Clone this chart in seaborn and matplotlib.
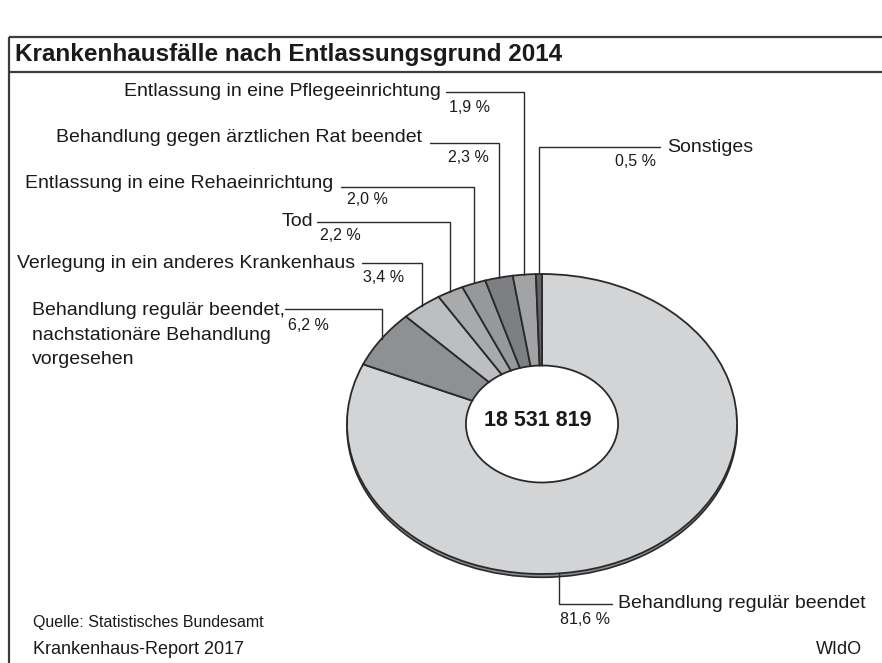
import numpy as np
import matplotlib
matplotlib.use("Agg")
import matplotlib.pyplot as plt
from matplotlib.patches import Ellipse
import seaborn as sns
from matplotlib import font_manager

# ---------------- data ----------------
categories = [
    "Behandlung regulär beendet",
    "Behandlung regulär beendet,\nnachstationäre Behandlung\nvorgesehen",
    "Verlegung in ein anderes Krankenhaus",
    "Tod",
    "Entlassung in eine Rehaeinrichtung",
    "Behandlung gegen ärztlichen Rat beendet",
    "Entlassung in eine Pflegeeinrichtung",
    "Sonstiges",
]
shares = [81.6, 6.2, 3.4, 2.2, 2.0, 2.3, 1.9, 0.5]
share_labels = ["81,6 %", "6,2 %", "3,4 %", "2,2 %", "2,0 %", "2,3 %", "1,9 %", "0,5 %"]
total_label = "18 531 819"
title = "Krankenhausfälle nach Entlassungsgrund 2014"
source = "Quelle: Statistisches Bundesamt"
footer_left = "Krankenhaus-Report 2017"
footer_right = "WIdO"

colors = ["#d3d4d6", "#8f9093", "#bdbec0", "#a9aaac", "#97989b",
          "#7e7f82", "#a2a3a5", "#636467"]

# ---------------- style ----------------
sns.set_theme(style="white")
avail = {f.name for f in font_manager.fontManager.ttflist}
main_font = "Liberation Sans Narrow" if "Liberation Sans Narrow" in avail else "Liberation Sans"
plt.rcParams["font.family"] = [main_font, "DejaVu Sans"]
TXT = "#1a1a1a"
LINE = "#2a2a2a"

W, H = 882, 663
fig = plt.figure(figsize=(W / 100, H / 100), dpi=100, facecolor="white")

# background axes in pixel coordinates
bg = fig.add_axes([0, 0, 1, 1])
bg.set_xlim(0, W)
bg.set_ylim(H, 0)
bg.axis("off")

# frame / title bar
bg.plot([9, W], [37, 37], color="#3c3c3c", lw=1.6, solid_capstyle="butt")
bg.plot([9, W], [72, 72], color="#3c3c3c", lw=1.6, solid_capstyle="butt")
bg.plot([9, 9], [37, H], color="#3c3c3c", lw=1.6, solid_capstyle="butt")
bg.text(15, 55, title, fontsize=17.5, fontweight="bold", color=TXT,
        ha="left", va="center")

# pie geometry (pixel)
cx, cy, rx, ry = 542, 424, 195, 150
pie_ax = fig.add_axes([(cx - rx) / W, (H - (cy + ry)) / H, 2 * rx / W, 2 * ry / H])
pie_ax.set_zorder(1)
bg.set_zorder(2)
bg.patch.set_alpha(0)

# thin 3D side below the top face
pie_ax.add_patch(Ellipse((0, -0.022), 2.0, 2.0, facecolor="#8c8d90",
                         edgecolor=LINE, lw=1.2, zorder=0, clip_on=False))
wedges, _ = pie_ax.pie(shares, colors=colors, startangle=90, counterclock=False,
                       radius=1.0,
                       wedgeprops=dict(width=0.61, edgecolor=LINE, linewidth=1.3,
                                       clip_on=False))
pie_ax.set_aspect("auto")
pie_ax.set_xlim(-1, 1)
pie_ax.set_ylim(-1, 1)
pie_ax.axis("off")
pie_ax.add_patch(Ellipse((0, 0), 0.78, 0.78, facecolor="white", edgecolor="none", zorder=0.5))

bg.text(538, 421, total_label, fontsize=15.5, fontweight="bold", color=TXT,
        ha="center", va="center")


def anchor(theta_deg):
    t = np.deg2rad(theta_deg)
    return cx + rx * np.cos(t), cy - ry * np.sin(t)


# label layout: (text x, text y, text ha, line y, line far x, pct x, pct y, pct ha)
layout = [
    (618, 604, "left", 604, 612, 610, 619, "right"),
    (32, 302, "left", 309, 285, 288, 325, "left"),
    (355, 263, "right", 263, 362, 363, 278, "left"),
    (313, 222, "right", 222, 317, 320, 236, "left"),
    (333, 184, "right", 187, 341, 347, 200, "left"),
    (422, 138, "right", 143, 430, 448, 157, "left"),
    (441, 92, "right", 92, 446, 449, 108, "left"),
    (667, 148, "left", 147, 660, 656, 161, "right"),
]

for i, (w, cat, pl) in enumerate(zip(wedges, categories, share_labels)):
    tx, ty, tha, ly, lx, px, py, pha = layout[i]
    if i == 0:
        theta = -85.0  # bottom of the large slice
    else:
        theta = (w.theta1 + w.theta2) / 2
    ax_, ay_ = anchor(theta)
    bg.plot([lx, ax_, ax_], [ly, ly, ay_], color=LINE, lw=1.0,
            solid_joinstyle="miter")
    if i == 1:
        bg.text(tx, ty, cat, fontsize=14, color=TXT, ha="left", va="top",
                linespacing=1.58)
    else:
        bg.text(tx, ty, cat, fontsize=14, color=TXT, ha=tha, va="center")
    bg.text(px, py, pl, fontsize=11.5, color=TXT, ha=pha, va="center")

bg.text(33, 622, source, fontsize=11.5, color=TXT, ha="left", va="center")
bg.text(33, 650, footer_left, fontsize=13, color=TXT, ha="left", va="center")
bg.text(862, 650, footer_right, fontsize=13, color=TXT, ha="right", va="center")

fig.savefig("out.png", dpi=100, facecolor="white")
